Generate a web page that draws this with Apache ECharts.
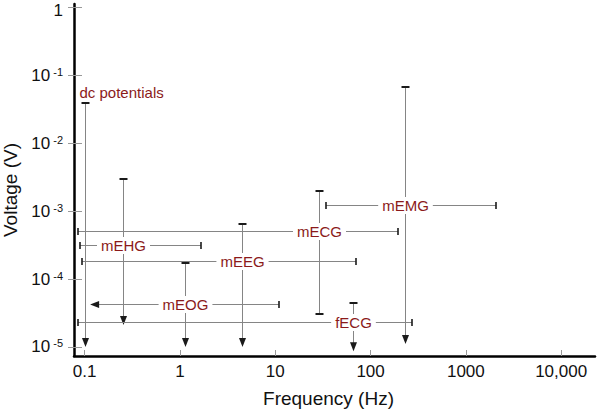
<!DOCTYPE html>
<html>
<head>
<meta charset="utf-8">
<script src="https://cdn.jsdelivr.net/npm/echarts@6/dist/echarts.min.js"></script>
<style>
  html, body { margin: 0; padding: 0; background: #fff; }
  #chart { width: 600px; height: 414px; }
</style>
</head>
<body>
<div id="chart"></div>
<script>
// ---- Data ----
const xTicks = [0.1, 1, 10, 100, 1000, 10000];
const xTickLabels = ['0.1', '1', '10', '100', '1000', '10,000'];
const yTicks = [1e-5, 1e-4, 1e-3, 1e-2, 1e-1, 1];
const yTickExponents = [-5, -4, -3, -2, -1, 0];

const signals    = ['dc potentials', 'mEHG', 'mEOG', 'mEEG', 'mECG', 'mEMG', 'fECG'];
// vertical bar: frequency position and voltage range
const freqCenter = [0.1, 0.25, 1.13, 4.5, 28.7, 230, 65];
const voltMax    = [0.039, 0.003, 1.7e-4, 6.4e-4, 2.0e-3, 0.068, 4.4e-5];
const voltMin    = [1e-5, 2.1e-5, 1e-5, 1e-5, 3.04e-5, 1.1e-5, 8.6e-6];
const voltMinEnd = ['arrow', 'arrow', 'arrow', 'arrow', 'cap', 'arrow', 'arrow'];
// horizontal bar: voltage position and frequency range
const voltTyp    = [null, 3.13e-4, 4.27e-5, 1.87e-4, 5.2e-4, 1.25e-3, 2.32e-5];
const freqMin    = [null, 0.089, 0.114, 0.094, 0.085, 34, 0.085];
const freqMax    = [null, 1.66, 10.9, 70, 194, 2070, 272];
const freqMinEnd = [null, 'cap', 'arrow', 'cap', 'cap', 'cap', 'cap'];

const FONT = '"Liberation Sans", Arial, Helvetica, sans-serif';
const chart = echarts.init(document.getElementById('chart'), null, { renderer: 'svg' });

function renderItem(params, api) {
  const i = params.dataIndex;
  const c = (x, y) => api.coord([x, y]);
  const px = v => Math.round(v) + 0.5;
  const gray = '#858585';
  const dark = '#1a1a1a';
  const kids = [];

  // vertical bar
  const top = c(freqCenter[i], voltMax[i]);
  const bot = c(freqCenter[i], voltMin[i]);
  const vx = px(top[0]);
  const vEndY = voltMinEnd[i] === 'arrow' ? bot[1] - 8 : bot[1];
  kids.push({ type: 'line', shape: { x1: vx, y1: top[1], x2: vx, y2: vEndY },
              style: { stroke: gray, lineWidth: 1 } });
  kids.push({ type: 'line', shape: { x1: vx - 4, y1: Math.round(top[1]), x2: vx + 4, y2: Math.round(top[1]) },
              style: { stroke: dark, lineWidth: 2 } });
  if (voltMinEnd[i] === 'arrow') {
    kids.push({ type: 'polygon', shape: { points: [[vx - 3.5, bot[1] - 9], [vx + 3.5, bot[1] - 9], [vx, bot[1]]] },
                style: { fill: dark } });
  } else {
    kids.push({ type: 'line', shape: { x1: vx - 4, y1: Math.round(bot[1]), x2: vx + 4, y2: Math.round(bot[1]) },
                style: { stroke: dark, lineWidth: 2 } });
  }

  if (voltTyp[i] != null) {
    const l = c(freqMin[i], voltTyp[i]);
    const r = c(freqMax[i], voltTyp[i]);
    const hy = px(l[1]);
    const hStartX = freqMinEnd[i] === 'arrow' ? l[0] + 8 : l[0];
    kids.push({ type: 'line', shape: { x1: hStartX, y1: hy, x2: r[0], y2: hy },
                style: { stroke: gray, lineWidth: 1 } });
    kids.push({ type: 'line', shape: { x1: Math.round(r[0]), y1: hy - 3.5, x2: Math.round(r[0]), y2: hy + 3.5 },
                style: { stroke: dark, lineWidth: 1.6 } });
    if (freqMinEnd[i] === 'arrow') {
      kids.push({ type: 'polygon', shape: { points: [[l[0] + 9, hy - 3.5], [l[0] + 9, hy + 3.5], [l[0], hy]] },
                  style: { fill: dark } });
    } else {
      kids.push({ type: 'line', shape: { x1: Math.round(l[0]), y1: hy - 3.5, x2: Math.round(l[0]), y2: hy + 3.5 },
                  style: { stroke: dark, lineWidth: 1.6 } });
    }
    kids.push({ type: 'text', z2: 10,
                style: { text: signals[i], x: vx, y: hy, align: 'center', verticalAlign: 'middle',
                         fill: '#8b1a1a', fontSize: 15, fontFamily: FONT,
                         backgroundColor: '#fff', padding: [1, 4] } });
  } else {
    kids.push({ type: 'text', z2: 10,
                style: { text: signals[i], x: vx - 6, y: top[1] - 11, align: 'left', verticalAlign: 'middle',
                         fill: '#8b1a1a', fontSize: 15, fontFamily: FONT } });
  }
  return { type: 'group', children: kids };
}

const xMin = Math.pow(10, -1.112), xMax = Math.pow(10, 4.355);
const yMin = Math.pow(10, -5.134), yMax = Math.pow(10, 0.055);

const yLabelFormatter = function (v) {
  const e = Math.round(Math.log10(v));
  if (e === 0) return '{one|1}';
  return '{b|10}{s|' + e + '}';
};

const option = {
  backgroundColor: '#fff',
  animation: false,
  grid: { left: 74, right: 5, top: 4, bottom: 58, containLabel: false, outerBoundsMode: 'none' },
  xAxis: {
    type: 'log', min: xMin, max: xMax,
    name: 'Frequency (Hz)', nameLocation: 'middle', nameGap: 33,
    nameTextStyle: { fontSize: 19, color: '#111', fontFamily: FONT, padding: [0, 12, 0, 0] },
    axisLine: { show: true, lineStyle: { color: '#000', width: 2.5 } },
    axisTick: { show: true, inside: true, length: 6, lineStyle: { color: '#999', width: 1 }, customValues: xTicks },
    axisLabel: { customValues: xTicks, margin: 7, fontSize: 17, color: '#111', fontFamily: FONT,
                 formatter: v => { const k = Math.round(Math.log10(v)) + 1; return xTickLabels[k] != null ? xTickLabels[k] : ''; } },
    splitLine: { show: false }, minorTick: { show: false }, minorSplitLine: { show: false }
  },
  yAxis: [{
    type: 'log', min: yMin, max: yMax, position: 'left',
    name: 'Voltage (V)', nameLocation: 'middle', nameGap: 47,
    nameTextStyle: { fontSize: 19, color: '#111', fontFamily: FONT, padding: [0, 20, 0, 0] },
    axisLine: { show: true, lineStyle: { color: '#000', width: 2.5 } },
    axisTick: { show: true, inside: true, length: 8, lineStyle: { color: '#999', width: 1 }, customValues: yTicks },
    axisLabel: { customValues: yTicks, margin: 11, color: '#111', fontFamily: FONT,
                 formatter: yLabelFormatter,
                 rich: { b: { fontSize: 17, lineHeight: 18, fontFamily: FONT, color: '#111' },
                         one: { fontSize: 17, lineHeight: 17, fontFamily: FONT, color: '#111', padding: [6, 0, 0, 0] },
                         s: { fontSize: 11, lineHeight: 11, verticalAlign: 'top', fontFamily: FONT, color: '#111', padding: [0, 0, 0, 3] } } },
    splitLine: { show: false }
  }, {
    type: 'log', min: yMin, max: yMax, position: 'left',
    axisLine: { show: false },
    axisTick: { show: true, inside: false, length: 6, lineStyle: { color: '#999', width: 1 }, customValues: yTicks },
    axisLabel: { show: false },
    splitLine: { show: false }
  }],
  series: [{
    type: 'custom',
    renderItem: renderItem,
    xAxisIndex: 0, yAxisIndex: 0,
    clip: false,
    data: signals.map((s, i) => [freqCenter[i], voltMax[i]]),
    encode: { x: 0, y: 1 }
  }]
};
chart.setOption(option);
</script>
</body>
</html>
